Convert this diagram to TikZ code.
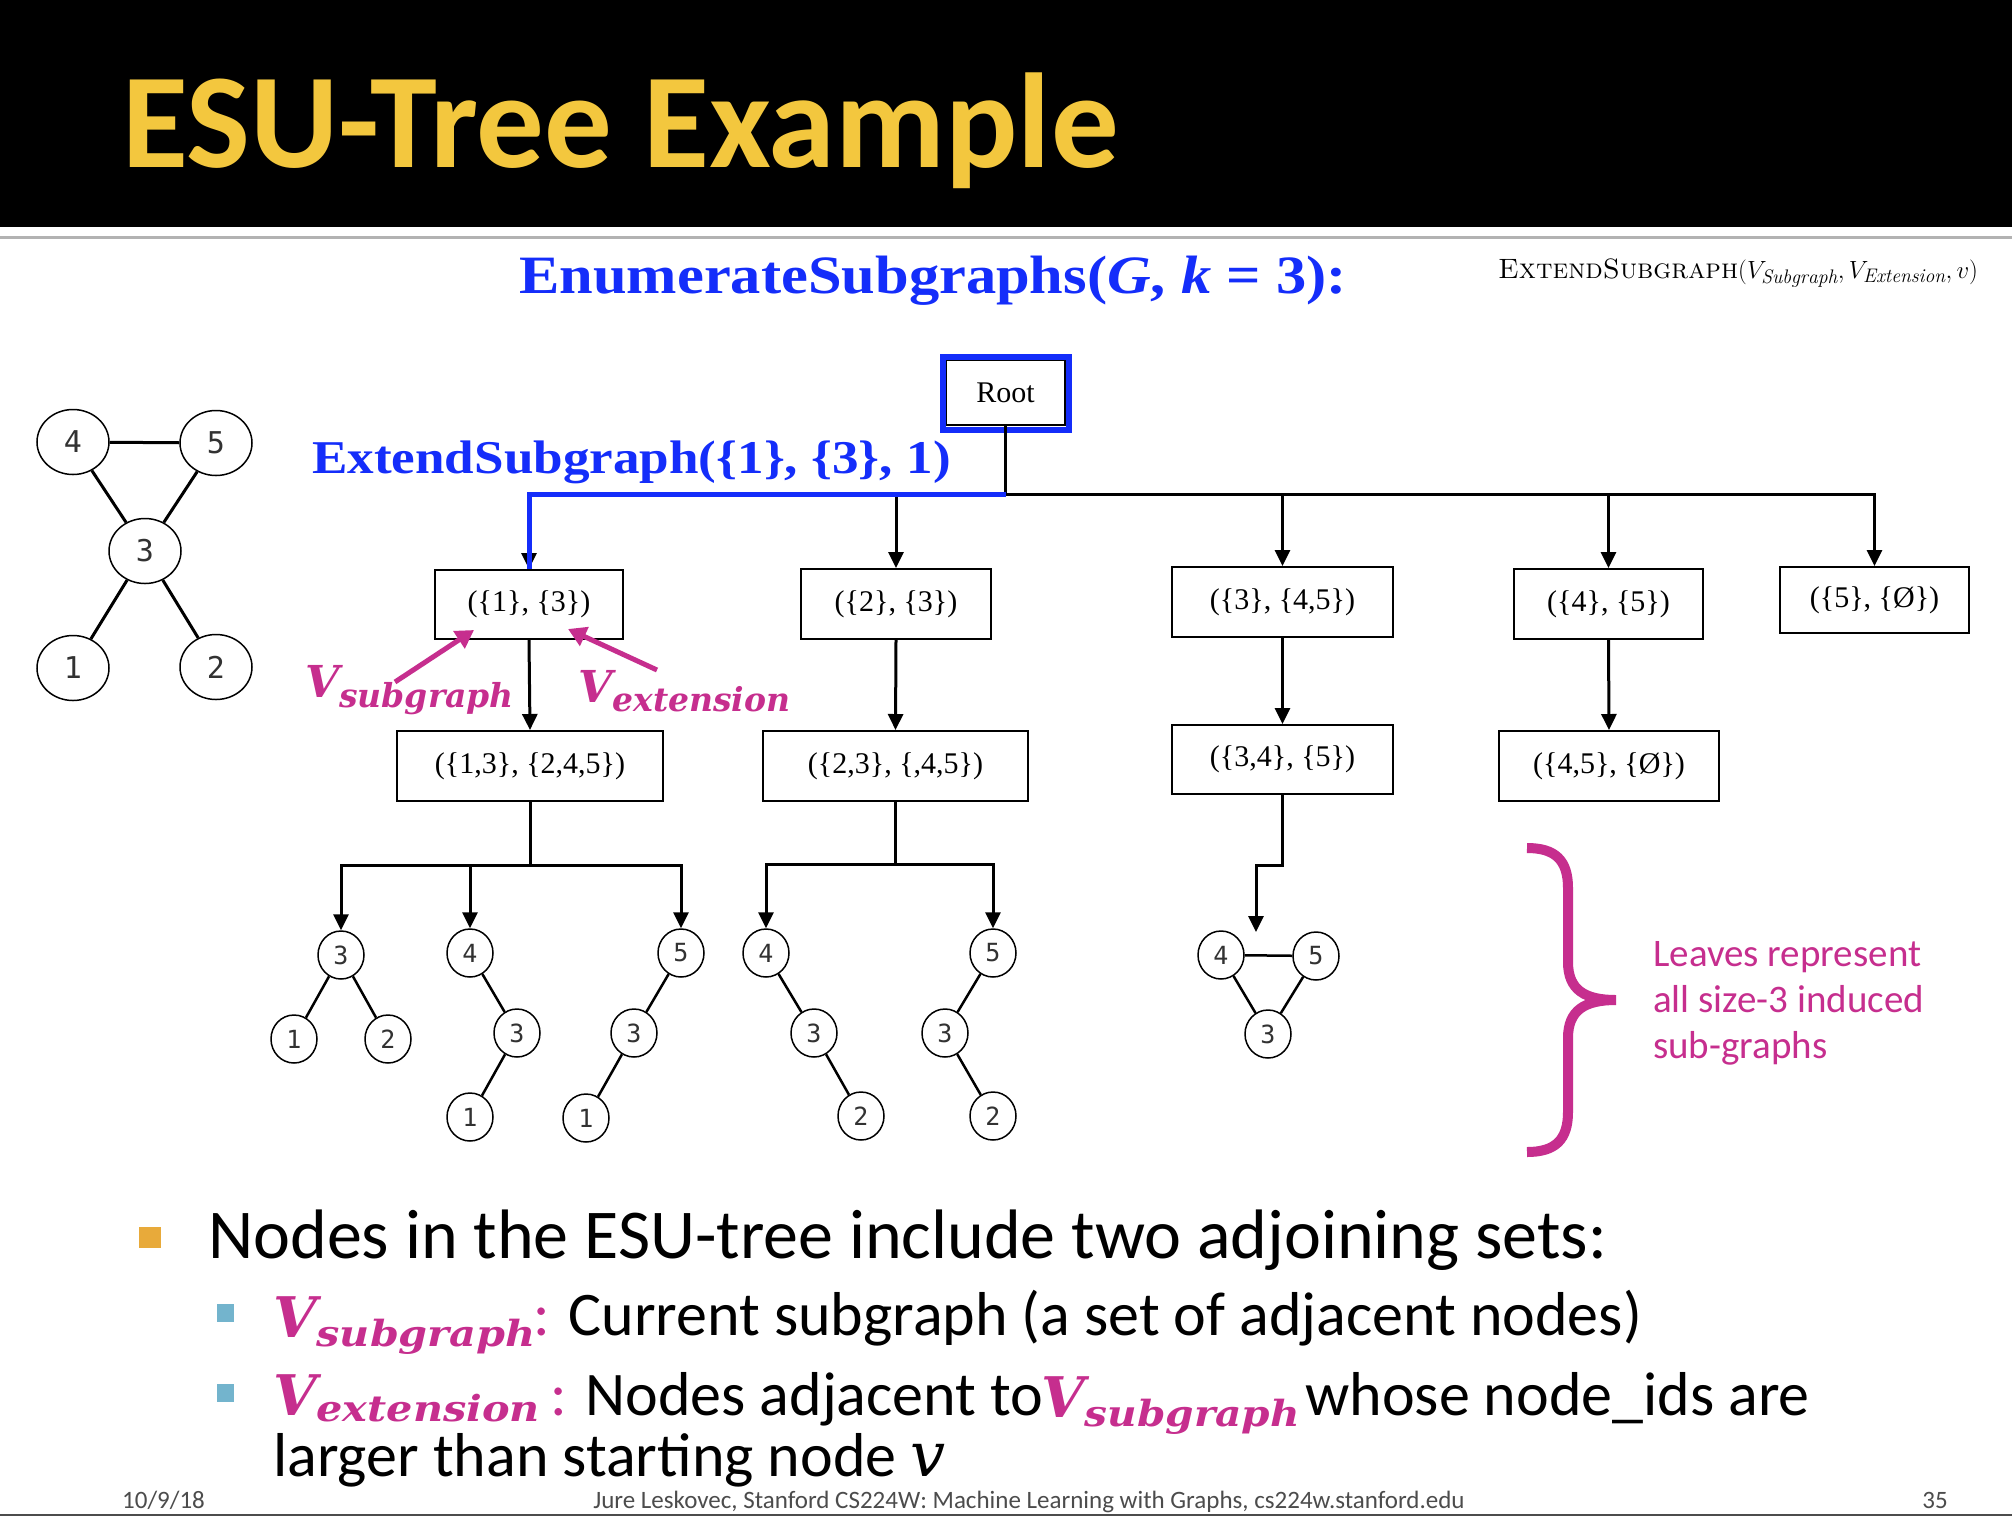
\documentclass[tikz,border=0pt]{standalone}
\usepackage{fontspec}
\usepackage{graphicx}
\usetikzlibrary{arrows.meta,shapes.geometric}
\newfontfamily\calfont{Carlito}
\newfontfamily\serf{Liberation Serif}
\newfontfamily\digf{DejaVu Sans Mono}
\newfontfamily\dejs{DejaVu Serif}
\definecolor{titleyellow}{RGB}{243,199,62}
\definecolor{hblue}{RGB}{20,45,250}
\definecolor{mag}{RGB}{198,46,142}
\definecolor{bulor}{RGB}{232,170,58}
\definecolor{bulbl}{RGB}{115,180,205}
\definecolor{digit}{RGB}{50,50,50}
\newcommand\setfs[1]{\fontsize{#1}{#1}\selectfont}
\newcommand\magV[5]{{\color{mag}\dejs\bfseries\itshape\setfs{#1}V\raisebox{-#3pt}{\scalebox{#4}[1]{\setfs{#2}#5}}}}
\begin{document}
\begin{tikzpicture}[x=1pt,y=-1pt,
  box/.style={draw, line width=2pt, minimum height=70pt, inner sep=0pt, font=\serf\setfs{30}},
  bignode/.style={ellipse, draw, line width=1.5pt, minimum width=72pt, minimum height=65pt, inner sep=0pt, font=\digf\setfs{30}, text=digit},
  smallnode/.style={ellipse, draw, line width=1.5pt, minimum width=46pt, minimum height=48pt, inner sep=0pt, font=\digf\setfs{25}, text=digit},
  gedge/.style={line width=3pt},
  sedge/.style={line width=2.5pt},
  arr/.style={line width=3pt, -{Triangle[length=16pt,width=15pt]}},
  magarr/.style={mag, line width=5pt, -{Triangle[length=18pt,width=20pt]}},
  txt/.style={anchor=base west, inner sep=0pt},
  body/.style={txt, font=\calfont\setfs{62}},
  foot/.style={inner sep=0pt, font=\calfont\setfs{25}, text=black!70},
]
\useasboundingbox (0,0) rectangle (2012,1516);
\fill[white] (0,0) rectangle (2012,1516);
% title bar
\fill[black] (0,0) rectangle (2012,227);
\draw[gray!60, line width=3pt] (0,237) -- (2012,237);
\node[txt, text=titleyellow, font=\calfont\bfseries\setfs{135}] (title) at (122,167) {ESU-Tree Example};

% headings
\node[txt, text=hblue] (enum) at (519,293) {\scalebox{1.12}[1]{\serf\bfseries\setfs{54}EnumerateSubgraphs(\textit{G}, \textit{k} = 3):}};
\node[txt] (esg) at (1498,278) {\setfs{28}\textsc{ExtendSubgraph}$(V_{\mathit{Subgraph}}, V_{\mathit{Extension}}, v)$};
\node[txt, text=hblue] (ext) at (312,473) {\scalebox{1.13}[1]{\serf\bfseries\setfs{47}ExtendSubgraph(\{1\}, \{3\}, 1)}};

% left graph
\node[bignode] (g4) at (73,442) {4};
\node[bignode] (g5) at (216,443) {5};
\node[bignode] (g3) at (145,551) {3};
\node[bignode] (g1) at (73,668) {1};
\node[bignode] (g2) at (216,667) {2};
\draw[gedge] (g4) -- (g5);
\draw[gedge] (g4) -- (g3);
\draw[gedge] (g5) -- (g3);
\draw[gedge] (g3) -- (g1);
\draw[gedge] (g3) -- (g2);

% root
\node[box, minimum width=119pt, minimum height=65pt] (root) at (1005.5,392.5) {Root};
\draw[hblue, line width=6pt] (942.5,356.5) rectangle (1068.5,429.5);

% level 1
\node[box, minimum width=188pt, minimum height=69pt] (B1) at (529,604.5) {(\{1\}, \{3\})};
\node[box, minimum width=190pt] (B2) at (896,604) {(\{2\}, \{3\})};
\node[box, minimum width=221pt] (B3) at (1282.5,602) {(\{3\}, \{4,5\})};
\node[box, minimum width=189pt] (B4) at (1608.5,604) {(\{4\}, \{5\})};
\node[box, minimum width=189pt, minimum height=66pt] (B5) at (1874.5,600) {(\{5\}, \{Ø\})};

% level 2
\node[box, minimum width=266pt] (C1) at (530,766) {(\{1,3\}, \{2,4,5\})};
\node[box, minimum width=265pt] (C2) at (895.5,766) {(\{2,3\}, \{,4,5\})};
\node[box, minimum width=221pt, minimum height=69pt] (C3) at (1282.5,759.5) {(\{3,4\}, \{5\})};
\node[box, minimum width=220pt] (C4) at (1609,766) {(\{4,5\}, \{Ø\})};

% root connectors
\coordinate (rj) at (1005.5,494);
\draw[arr] (root.south) -- (rj) -| (B1.north);
\draw[arr] (root.south) -- (rj) -| (B2.north);
\draw[arr] (root.south) -- (rj) -| (B3.north);
\draw[arr] (root.south) -- (rj) -| (B4.north);
\draw[arr] (root.south) -- (rj) -| (B5.north);
\draw[hblue, line width=5pt] (rj) -| (B1.north);

\draw[arr] (B1.south) -- (C1.north);
\draw[arr] (B2.south) -- (C2.north);
\draw[arr] (B3.south) -- (C3.north);
\draw[arr] (B4.south) -- (C4.north);

% leaves of C1
\node[smallnode] (a3) at (341,955) {3};
\node[smallnode] (a1) at (294,1039) {1};
\node[smallnode] (a2) at (388,1039) {2};
\draw[sedge] (a3) -- (a1);
\draw[sedge] (a3) -- (a2);
\node[smallnode] (b4) at (470,953) {4};
\node[smallnode] (b3) at (517,1033) {3};
\node[smallnode] (b1) at (470,1117) {1};
\draw[sedge] (b4) -- (b3);
\draw[sedge] (b3) -- (b1);
\node[smallnode] (c5) at (681,953) {5};
\node[smallnode] (c3) at (634,1033) {3};
\node[smallnode] (c1) at (586,1118) {1};
\draw[sedge] (c5) -- (c3);
\draw[sedge] (c3) -- (c1);
\coordinate (j1) at (530,865);
\draw[arr] (C1.south) -- (j1) -| (a3.north);
\draw[arr] (C1.south) -- (j1) -| (b4.north);
\draw[arr] (C1.south) -- (j1) -| (c5.north);

% leaves of C2
\node[smallnode] (d4) at (766,953) {4};
\node[smallnode] (d3) at (814,1033) {3};
\node[smallnode] (d2) at (861,1116) {2};
\draw[sedge] (d4) -- (d3);
\draw[sedge] (d3) -- (d2);
\node[smallnode] (e5) at (993,953) {5};
\node[smallnode] (e3) at (945,1033) {3};
\node[smallnode] (e2) at (993,1116) {2};
\draw[sedge] (e5) -- (e3);
\draw[sedge] (e3) -- (e2);
\coordinate (j2) at (895.5,864);
\draw[arr] (C2.south) -- (j2) -| (d4.north);
\draw[arr] (C2.south) -- (j2) -| (e5.north);

% leaf of C3
\node[smallnode] (f4) at (1221,955) {4};
\node[smallnode] (f5) at (1316,956) {5};
\node[smallnode] (f3) at (1268,1034) {3};
\draw[sedge] (f4) -- (f5);
\draw[sedge] (f4) -- (f3);
\draw[sedge] (f5) -- (f3);
\coordinate (j3) at (1282.5,865);
\coordinate (tin) at (1256,932);
\draw[arr] (C3.south) -- (j3) -| (tin);

% V annotations in tree
\node[txt] (vsub) at (305,697) {\magV{44}{33}{10}{1.0}{subgraph}};
\node[txt] (vext) at (578,702) {\magV{44}{33}{9}{1.0}{extension}};
\coordinate (pa1) at (395,682);
\coordinate (pa1e) at (474,630);
\coordinate (pa2) at (657,670);
\coordinate (pa2e) at (568,629);
\draw[magarr] (pa1) -- (pa1e);
\draw[magarr] (pa2) -- (pa2e);

% brace
\draw[mag, line width=10pt] (1527,848) .. controls (1555,848) and (1568,860) .. (1568,888) -- (1568,962) .. controls (1568,990) and (1585,1000) .. (1616,1000) .. controls (1585,1000) and (1568,1010) .. (1568,1038) -- (1568,1112) .. controls (1568,1140) and (1555,1152) .. (1527,1152);
\node[txt, text=mag, font=\calfont\setfs{39}] (lv1) at (1653,966) {Leaves represent};
\node[txt, text=mag, font=\calfont\setfs{39}] (lv2) at (1653,1012) {all size-3 induced};
\node[txt, text=mag, font=\calfont\setfs{39}] (lv3) at (1653,1058) {sub-graphs};

% bullets
\fill[bulor] (139,1227) rectangle (161,1248);
\node[body, font=\calfont\setfs{70}] (l1) at (208,1258) {Nodes in the ESU-tree include two adjoining sets:};
\fill[bulbl] (217,1304) rectangle (234,1322);
\node[txt] (l2v) at (273,1337) {\magV{56}{36}{9}{1.15}{subgraph}};
\node[body] (l2t) at (533,1335) {{\color{mag}:} Current subgraph (a set of adjacent nodes)};
\fill[bulbl] (217,1384) rectangle (234,1402);
\node[txt] (l3v) at (273,1415) {\magV{56}{36}{6}{1.15}{extension}};
\node[body] (l3t) at (550,1415) {{\color{mag}:} Nodes adjacent to};
\node[txt] (l3v2) at (1041,1417) {\magV{56}{36}{9}{1.13}{subgraph}};
\node[body] (l3t2) at (1305,1415) {whose node\_ids are};
\node[body] (l4) at (273,1476) {larger than starting node {\dejs\itshape v}};

% footer
\node[foot, anchor=base west] (fdate) at (122,1508) {10/9/18};
\node[foot, anchor=base] (fmid) at (1029,1508) {Jure Leskovec, Stanford CS224W: Machine Learning with Graphs, cs224w.stanford.edu};
\node[foot, anchor=base east] (fnum) at (1948,1508) {35};
\draw[black!70, line width=2pt] (0,1515) -- (2012,1515);
\end{tikzpicture}
\end{document}
